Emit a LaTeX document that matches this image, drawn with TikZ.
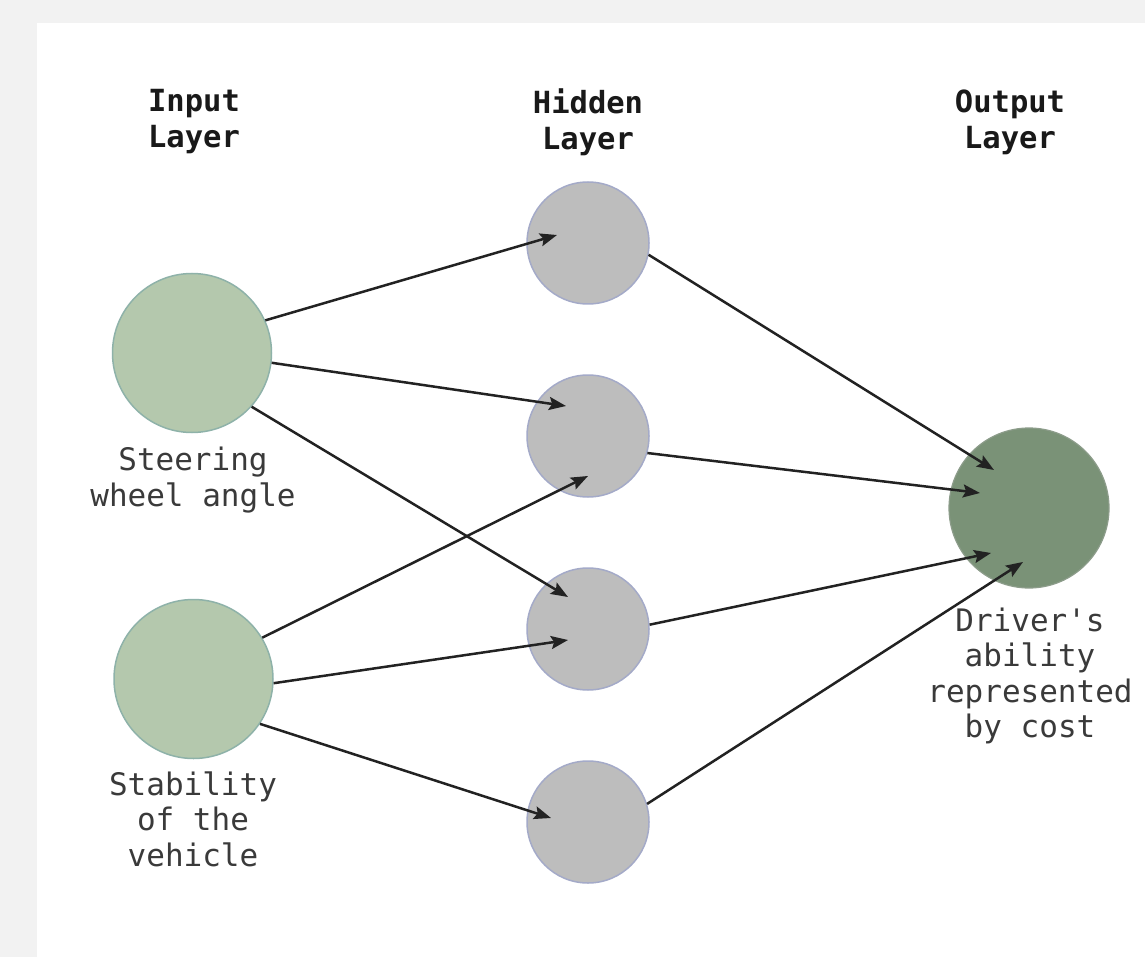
\documentclass[tikz,border=0pt]{standalone}
\usepackage{fontspec}
\setmonofont{DejaVu Sans Mono}
\usetikzlibrary{arrows.meta}
\definecolor{bgout}{HTML}{F2F2F2}
\definecolor{infill}{HTML}{B4C8AD}
\definecolor{indraw}{HTML}{8EB2A9}
\definecolor{hidfill}{HTML}{BDBDBD}
\definecolor{hiddraw}{HTML}{A4AAC8}
\definecolor{outfill}{HTML}{7A9277}
\definecolor{outdraw}{HTML}{8C9C8A}
\definecolor{arrcol}{HTML}{222222}
\definecolor{labcol}{HTML}{3A3A3A}
\begin{document}
\begin{tikzpicture}[x=1pt,y=-1pt,
  inneuron/.style={circle,fill=infill,draw=indraw,line width=1.5pt,minimum size=159pt,inner sep=0pt},
  hidneuron/.style={circle,fill=hidfill,draw=hiddraw,line width=1.5pt,minimum size=122pt,inner sep=0pt},
  outneuron/.style={circle,fill=outfill,draw=outdraw,line width=1.2pt,minimum size=160pt,inner sep=0pt},
  heading/.style={align=center,inner sep=0pt,text=black!90,font=\fontsize{30.5}{36}\selectfont\ttfamily\bfseries},
  nlabel/.style={align=center,inner sep=0pt,text=labcol,font=\fontsize{31}{35.5}\selectfont\ttfamily},
  arr/.style={draw=arrcol,line width=2.5pt,-{Stealth[length=17pt,width=13pt,inset=3pt]}}]
\useasboundingbox (0,0) rectangle (1145,957);
\fill[bgout] (0,0) rectangle (1145,957);
\fill[white] (37,23) rectangle (1145,957);

\node[heading] (hin) at (194,122) {Input\\Layer};
\node[heading] (hhid) at (588,122) {Hidden\\Layer};
\node[heading] (hout) at (1010,122) {Output\\Layer};

\node[inneuron] (i1) at (192,353) {};
\node[inneuron] (i2) at (193.5,679) {};
\node[hidneuron] (h1) at (588,243) {};
\node[hidneuron] (h2) at (588,436) {};
\node[hidneuron] (h3) at (588,629) {};
\node[hidneuron] (h4) at (588,822) {};
\node[outneuron] (o) at (1029,508) {};

\node[nlabel] (l1) at (193,480) {Steering\\wheel angle};
\node[nlabel] (l2) at (193,819) {Stability\\of the\\vehicle};
\node[nlabel] (l3) at (1030,676) {Driver's\\ability\\represented\\by cost};

\coordinate (t11) at (557,235);
\coordinate (t12) at (566,406);
\coordinate (t13) at (568,597);
\coordinate (t22) at (588,476);
\coordinate (t23) at (568,640);
\coordinate (t24) at (551,818);
\coordinate (to1) at (994,470);
\coordinate (to2) at (980,493);
\coordinate (to3) at (991,553);
\coordinate (to4) at (1023,562);

\draw[arr] (i1.24.7) -- (t11);
\draw[arr] (i1.-7.3) -- (t12);
\draw[arr] (i1.-42.5) -- (t13);
\draw[arr] (i2.31.6) -- (t22);
\draw[arr] (i2.-3) -- (t23);
\draw[arr] (i2.-34.5) -- (t24);
\draw[arr] (h1.-11) -- (to1);
\draw[arr] (h2.-16) -- (to2);
\draw[arr] (h3.4) -- (to3);
\draw[arr] (h4.17.5) -- (to4);
\end{tikzpicture}
\end{document}
